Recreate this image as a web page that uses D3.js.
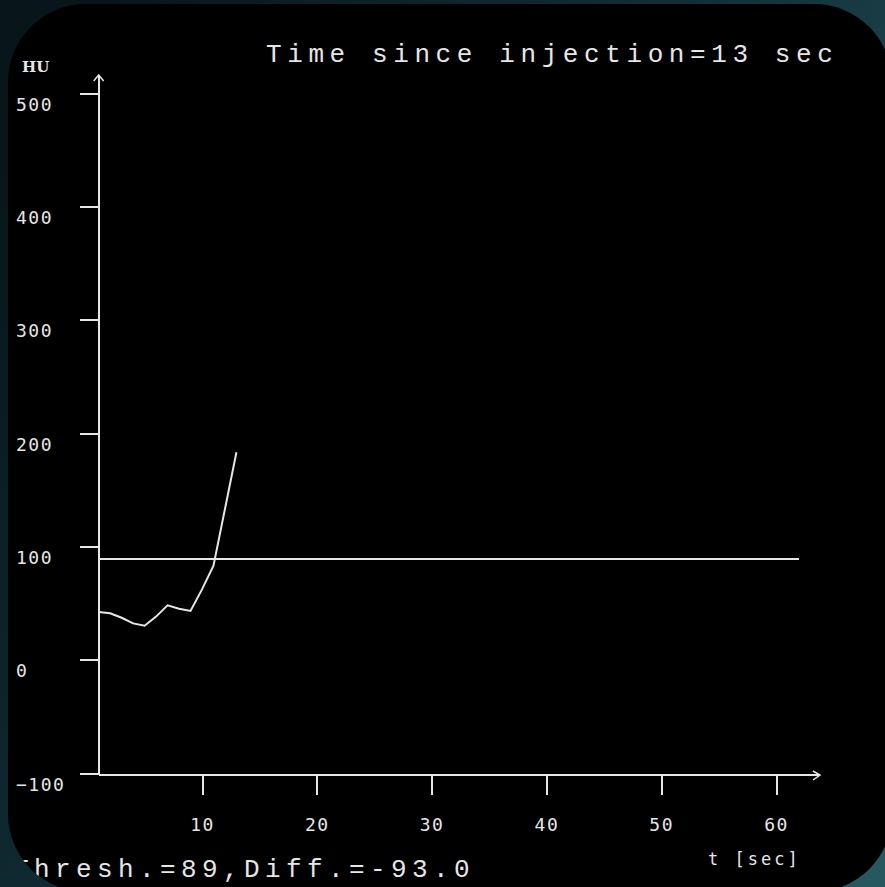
<!DOCTYPE html>
<html>
<head>
<meta charset="utf-8">
<script src="https://cdn.jsdelivr.net/npm/d3@7"></script>
<style>
  html, body { margin: 0; padding: 0; background: #0b1a20; }
  svg { display: block; }
</style>
</head>
<body>
<script>
// bolus tracking curve
const times = [1, 2, 3, 4, 5, 6, 7, 8, 9, 10, 11, 12, 13];
const hu = [42, 41, 37, 32, 30, 38, 48, 45, 43, 62, 83, 133, 183];
const threshold = 89;
const thresholdSpan = [1, 62];
const yTicks = [-100, 0, 100, 200, 300, 400, 500];
const xTicks = [10, 20, 30, 40, 50, 60];
const title = "Time since injection=13 sec";
const status = "Thresh.=89,Diff.=-93.0";

const W = 885, H = 887;
const fg = "#e6e6e6";

const svg = d3.select("body").append("svg")
  .attr("width", W)
  .attr("height", H);

const defs = svg.append("defs");
const grad = defs.append("linearGradient")
  .attr("id", "bg")
  .attr("x1", 0).attr("y1", 0.2).attr("x2", 1).attr("y2", 0.8);
grad.append("stop").attr("offset", "0%").attr("stop-color", "#08161b");
grad.append("stop").attr("offset", "50%").attr("stop-color", "#123039");
grad.append("stop").attr("offset", "100%").attr("stop-color", "#27585f");

defs.append("clipPath").attr("id", "panel")
  .append("rect")
  .attr("x", 8).attr("y", 4)
  .attr("width", 884).attr("height", 888)
  .attr("rx", 78).attr("ry", 78);

svg.append("rect")
  .attr("width", W).attr("height", H)
  .attr("fill", "url(#bg)");

svg.append("rect")
  .attr("x", 8).attr("y", 4)
  .attr("width", 884).attr("height", 888)
  .attr("rx", 78).attr("ry", 78)
  .attr("fill", "#000");

const g = svg.append("g").attr("clip-path", "url(#panel)");

const x = d3.scaleLinear().domain([0, 60]).range([87.2, 776]);
const y = d3.scaleLinear().domain([-100, 500]).range([773, 93]);

const axisX0 = x(1);      // left end of time axis
const axisY0 = 775;       // baseline of the plot

// y axis
const yAxis = g.append("g")
  .attr("transform", `translate(${axisX0},0)`)
  .call(d3.axisLeft(y).tickValues(yTicks).tickSize(19).tickFormat(d3.format("d")));
yAxis.select(".domain").remove();
yAxis.selectAll(".tick line")
  .attr("stroke", fg).attr("stroke-width", 2)
  .attr("shape-rendering", "crispEdges");
yAxis.selectAll(".tick text")
  .attr("x", 16 - axisX0)
  .attr("dy", "0.95em")
  .attr("text-anchor", "start")
  .attr("fill", fg)
  .attr("font-family", "DejaVu Sans Mono")
  .attr("font-size", 18)
  .attr("letter-spacing", 1.5);

// x axis
const xAxis = g.append("g")
  .attr("transform", `translate(0,${axisY0})`)
  .call(d3.axisBottom(x).tickValues(xTicks).tickSize(20));
xAxis.select(".domain").remove();
xAxis.selectAll(".tick line")
  .attr("stroke", fg).attr("stroke-width", 2)
  .attr("shape-rendering", "crispEdges");
xAxis.selectAll(".tick text")
  .attr("y", 56)
  .attr("dy", 0)
  .attr("fill", fg)
  .attr("font-family", "DejaVu Sans Mono")
  .attr("font-size", 18)
  .attr("letter-spacing", 1.5);

// axis lines with arrow heads
const axisLines = g.append("g")
  .attr("stroke", fg).attr("stroke-width", 2).attr("fill", "none");
axisLines.append("path")
  .attr("shape-rendering", "crispEdges")
  .attr("d", `M${axisX0},${axisY0}V75M${axisX0},${axisY0}H820`);
axisLines.append("path")
  .attr("stroke-width", 1.5)
  .attr("d", `M${axisX0 - 5},81L${axisX0},75L${axisX0 + 5},81`);
axisLines.append("path")
  .attr("stroke-width", 1.5)
  .attr("d", `M813,${axisY0 - 4}L820,${axisY0}L813,${axisY0 + 5}`);

// threshold line
g.append("line")
  .attr("x1", x(thresholdSpan[0])).attr("x2", x(thresholdSpan[1]))
  .attr("y1", y(threshold)).attr("y2", y(threshold))
  .attr("stroke", fg).attr("stroke-width", 2)
  .attr("shape-rendering", "crispEdges");

// enhancement curve
const line = d3.line()
  .x((d, i) => x(times[i]))
  .y(d => y(d));
g.append("path")
  .datum(hu)
  .attr("d", line)
  .attr("fill", "none")
  .attr("stroke", fg)
  .attr("stroke-width", 2);

// texts
g.append("text")
  .attr("x", 22).attr("y", 72)
  .attr("fill", fg)
  .attr("font-family", "DejaVu Serif")
  .attr("font-weight", "bold")
  .attr("font-size", 15)
  .text("HU");

g.append("text")
  .attr("x", 708).attr("y", 865)
  .attr("fill", fg)
  .attr("font-family", "DejaVu Sans Mono")
  .attr("font-size", 17)
  .attr("letter-spacing", 3)
  .text("t [sec]");

g.append("text")
  .attr("x", 266).attr("y", 62)
  .attr("fill", fg)
  .attr("font-family", "Liberation Mono")
  .attr("font-size", 26)
  .attr("letter-spacing", 5.6)
  .text(title);

g.append("text")
  .attr("x", 13).attr("y", 877)
  .attr("fill", fg)
  .attr("font-family", "Liberation Mono")
  .attr("font-size", 26)
  .attr("letter-spacing", 5.4)
  .text(status);
</script>
</body>
</html>
